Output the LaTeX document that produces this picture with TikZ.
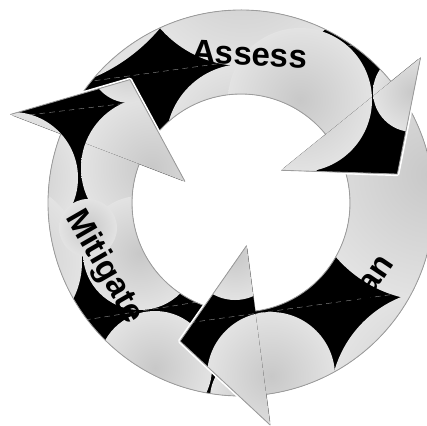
\documentclass[tikz,border=0pt]{standalone}
\usepackage{fontspec}
\setmainfont{Liberation Sans}

\definecolor{ringgray}{HTML}{E8E8E8}
\definecolor{spotgray}{HTML}{C8C8C8}
\definecolor{edgegray}{HTML}{9C9C9C}
\definecolor{seamgray}{HTML}{8A8A8A}
\pgfdeclareradialshading{spot}{\pgfpoint{0bp}{0bp}}{color(0bp)=(spotgray); color(30bp)=(ringgray); color(50bp)=(ringgray)}

% arrow outlines, polar around the ring centre
\newcommand\assesspath{(-147:193) arc[start angle=-147, end angle=-39, radius=193] -- (-39:231) -- (-10.5:159) -- (-39:52) -- (-39:109) arc[start angle=-39, end angle=-147, radius=109] -- cycle}
\newcommand\assesshead{(-39:231) -- (-10.5:159) -- (-39:52)}
\newcommand\planpath{(-30:193) arc[start angle=-30, end angle=82.5, radius=193] -- (82.5:224) -- (113.8:151) -- (82.5:43) -- (82.5:109) arc[start angle=82.5, end angle=-30, radius=109] -- cycle}
\newcommand\planhead{(82.5:224) -- (113.8:151) -- (82.5:43)}
\newcommand\mitigatepath{(-272:193) arc[start angle=-272, end angle=-159, radius=193] -- (-159:247) -- (-132:166) -- (-159:60) -- (-159:109) arc[start angle=-159, end angle=-272, radius=109] -- cycle}
\newcommand\mitigatehead{(-159:247) -- (-132:166) -- (-159:60)}

% light spots of each arrow, the rest stays black
\newcommand\assesslights{%
  \draw[tileseam] (85,82) -- (355,45);
  \shade[lightspot] (23,-87) circle[radius=179];
  \shade[lightspot] (243,-44) circle[radius=110];
  \shade[lightspot] (244,142) circle[radius=78];
  \shade[lightspot] (300,100) circle[radius=72];
  \shade[lightspot] (413,92) circle[radius=40];}
\newcommand\planlights{%
  \draw[tileseam] (180,324) -- (410,292);
  \shade[lightspot] (432,174) circle[radius=127];
  \shade[lightspot] (443,402) circle[radius=113];
  \shade[lightspot] (271,376) circle[radius=64];
  \shade[lightspot] (235,255) circle[radius=45];}
\newcommand\mitigatelights{%
  \draw[tileseam] (20,116) -- (145,101);
  \draw[tileseam] (85,320) -- (210,300);
  \shade[lightspot] (12,178) circle[radius=66];
  \shade[lightspot] (152,168) circle[radius=71];
  \shade[lightspot] (130,62) circle[radius=41];
  \shade[lightspot] (140,253) circle[radius=57];
  \shade[lightspot] (0,262) circle[radius=82];
  \shade[lightspot] (88,228) circle[radius=29];
  \shade[lightspot] (155,368) circle[radius=57];
  \shade[lightspot] (254,398) circle[radius=44];}

\newcommand\shadedarrow[2]{%
  \fill[black, ringshift] #1;
  \begin{scope}
    \clip[ringshift] #1;
    #2
  \end{scope}}

\tikzset{
  ringshift/.style={shift={(241,203)}},
  lightspot/.style={shading=spot},
  arrowedge/.style={ringshift, draw=edgegray, line width=0.6pt, line join=round},
  arrowhalo/.style={ringshift, draw=white, line width=3pt, line join=round, line cap=round},
  tileseam/.style={draw=seamgray, line width=0.3pt, dash pattern=on 4pt off 3pt},
  cyclelabel/.style={font=\bfseries\fontsize{23.5}{24}\selectfont, inner sep=0pt},
}

\begin{document}
\begin{tikzpicture}[x=0.25mm, y=-0.25mm]
\useasboundingbox (0,0) rectangle (427,426);

% whole arrows
\shadedarrow{\assesspath}{\assesslights}
\draw[arrowedge] \assesspath;
\shadedarrow{\planpath}{\planlights}
\draw[arrowedge] \planpath;
\shadedarrow{\mitigatepath}{\mitigatelights}
\draw[arrowedge] \mitigatepath;

% heads again, over the next tail
\draw[arrowhalo] \assesshead;
\shadedarrow{\assesshead}{\assesslights}
\draw[arrowedge] \assesshead;
\draw[arrowhalo] \planhead;
\shadedarrow{\planhead}{\planlights}
\draw[arrowedge] \planhead;
\draw[arrowhalo] \mitigatehead;
\shadedarrow{\mitigatehead}{\mitigatelights}
\draw[arrowedge] \mitigatehead;

\node[cyclelabel, rotate=-3] (assess) at (249.5,54) {Assess};
\node[cyclelabel, rotate=56] (plan) at (365,286) {Plan};
\node[cyclelabel, rotate=-60] (mitigate) at (104,267) {Mitigate};
\end{tikzpicture}
\end{document}
